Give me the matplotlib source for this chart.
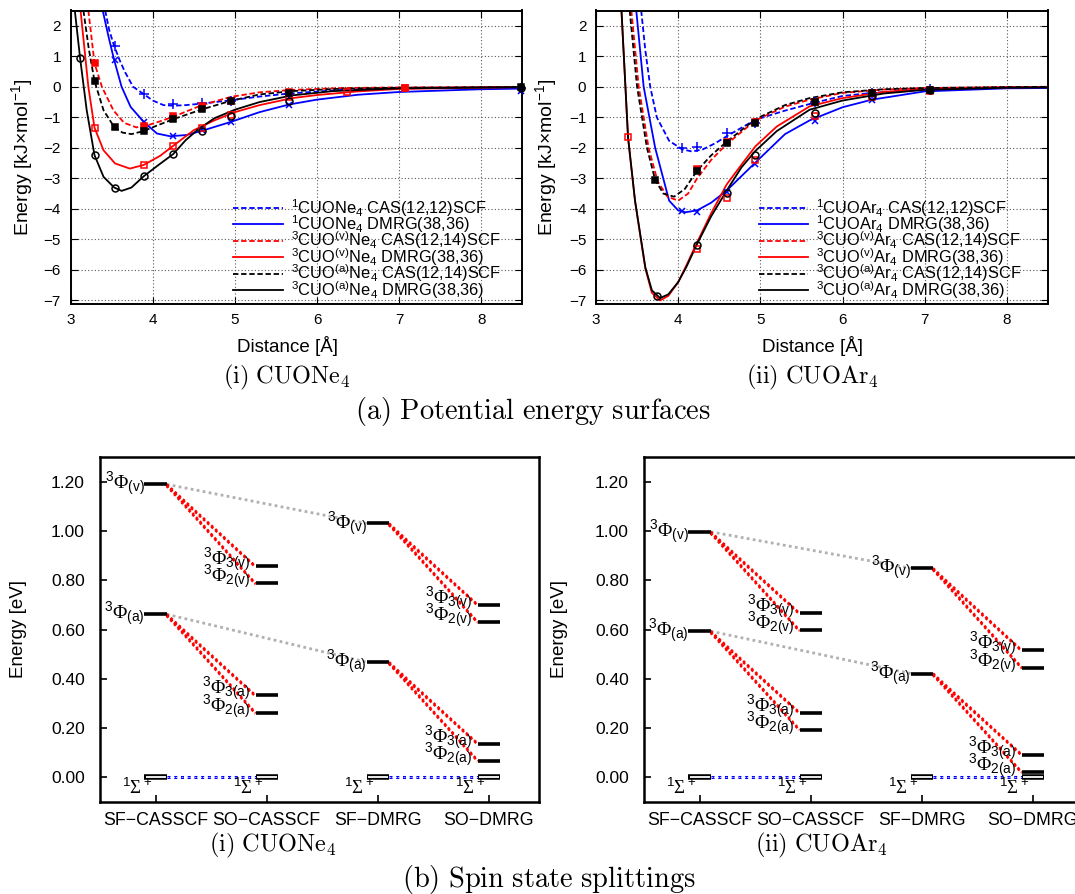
import numpy as np
import matplotlib.pyplot as plt

plt.rcParams['font.family'] = ['Liberation Sans', 'DejaVu Sans']
plt.rcParams['mathtext.fontset'] = 'custom'
plt.rcParams['mathtext.rm'] = 'Liberation Sans'
plt.rcParams['mathtext.it'] = 'Liberation Sans:italic'
plt.rcParams['mathtext.bf'] = 'Liberation Sans:bold'
plt.rcParams['mathtext.sf'] = 'Liberation Serif'   # used for the serif Phi / Sigma glyphs

# ---------------- potential energy surfaces, CUONe4 ----------------
# curves and computed points
ne_s_cas_cx = [3.42, 3.47, 3.53, 3.6, 3.66, 3.76, 3.89, 4.0, 4.13, 4.25, 4.4, 4.6, 4.95, 5.3, 5.66, 6.3, 7.0, 8.5]
ne_s_cas_cy = [2.5, 1.85, 1.33, 0.85, 0.49, 0.0, -0.24, -0.45, -0.6, -0.62, -0.6, -0.55, -0.44, -0.32, -0.22, -0.1, -0.05, -0.02]
ne_s_cas_px = [3.54, 3.89, 4.24, 4.6, 4.95, 5.66, 8.49]
ne_s_cas_py = [1.34, -0.23, -0.56, -0.53, -0.45, -0.25, -0.05]

ne_s_dmrg_cx = [3.39, 3.46, 3.53, 3.62, 3.73, 3.89, 4.05, 4.21, 4.41, 4.6, 4.95, 5.3, 5.66, 6.0, 6.5, 7.0, 8.0, 8.5]
ne_s_dmrg_cy = [2.5, 1.65, 0.87, 0.0, -0.66, -1.15, -1.53, -1.62, -1.58, -1.44, -1.15, -0.83, -0.58, -0.42, -0.26, -0.17, -0.08, -0.06]
ne_s_dmrg_px = [3.54, 3.89, 4.24, 4.6, 4.95, 5.66, 8.49]
ne_s_dmrg_py = [0.88, -1.14, -1.61, -1.42, -1.15, -0.58, -0.13]

ne_v_cas_cx = [3.215, 3.29, 3.38, 3.52, 3.65, 3.8, 3.95, 4.1, 4.25, 4.6, 4.95, 5.3, 5.7, 6.3, 7.0, 8.5]
ne_v_cas_cy = [2.5, 0.77, 0.0, -0.77, -1.18, -1.33, -1.25, -1.12, -0.98, -0.6, -0.33, -0.18, -0.1, -0.04, -0.02, 0.0]
ne_v_cas_px = [3.29, 3.89, 4.24, 4.6, 4.95, 5.66, 7.07]
ne_v_cas_py = [0.77, -1.29, -0.97, -0.62, -0.45, -0.18, -0.03]

ne_v_dmrg_cx = [3.12, 3.215, 3.29, 3.4, 3.54, 3.72, 3.89, 4.09, 4.25, 4.5, 4.75, 5.0, 5.3, 5.7, 6.0, 6.5, 7.0, 8.5]
ne_v_dmrg_cy = [2.5, 0.0, -1.34, -2.08, -2.51, -2.68, -2.56, -2.26, -1.93, -1.42, -1.1, -0.83, -0.6, -0.37, -0.27, -0.15, -0.07, -0.01]
ne_v_dmrg_px = [3.29, 3.89, 4.24, 4.6, 4.95, 5.66, 6.36, 7.07]
ne_v_dmrg_py = [-1.34, -2.55, -1.93, -1.34, -0.92, -0.35, -0.17, -0.05]

ne_a_cas_cx = [3.155, 3.22, 3.29, 3.4, 3.53, 3.63, 3.74, 3.89, 4.05, 4.25, 4.61, 4.95, 5.3, 5.7, 6.3, 7.0, 8.5]
ne_a_cas_cy = [2.5, 1.25, 0.19, -0.77, -1.32, -1.5, -1.55, -1.45, -1.27, -1.06, -0.73, -0.46, -0.25, -0.14, -0.06, -0.03, -0.01]
ne_a_cas_px = [3.29, 3.54, 3.89, 4.24, 4.6, 4.95, 5.66, 8.49]
ne_a_cas_py = [0.19, -1.32, -1.45, -1.05, -0.73, -0.46, -0.2, -0.02]

ne_a_dmrg_cx = [3.05, 3.114, 3.195, 3.29, 3.4, 3.53, 3.62, 3.74, 3.89, 4.05, 4.25, 4.4, 4.55, 4.75, 5.0, 5.3, 5.7, 6.2, 7.0, 8.5]
ne_a_dmrg_cy = [2.5, 0.95, -0.77, -2.24, -2.95, -3.3, -3.41, -3.3, -2.93, -2.6, -2.2, -1.75, -1.4, -1.03, -0.75, -0.5, -0.28, -0.14, -0.05, -0.01]
ne_a_dmrg_px = [3.11, 3.29, 3.54, 3.89, 4.24, 4.6, 4.95, 5.66, 8.49]
ne_a_dmrg_py = [0.95, -2.24, -3.3, -2.93, -2.2, -1.45, -0.95, -0.46, -0.05]

# ---------------- potential energy surfaces, CUOAr4 ----------------
ar_s_cas_cx = [3.55, 3.6, 3.66, 3.74, 3.89, 4.05, 4.17, 4.3, 4.45, 4.59, 4.94, 5.3, 5.66, 6.0, 6.36, 7.0, 8.0, 8.5]
ar_s_cas_cy = [2.5, 1.2, 0.0, -1.0, -1.77, -2.05, -2.12, -2.05, -1.85, -1.62, -1.08, -0.78, -0.52, -0.3, -0.2, -0.08, -0.02, -0.01]
ar_s_cas_px = [4.05, 4.23, 4.59, 4.94, 5.66, 6.36, 7.07]
ar_s_cas_py = [-2.02, -1.96, -1.53, -1.18, -0.5, -0.2, -0.08]

ar_s_dmrg_cx = [3.49, 3.58, 3.72, 3.89, 4.0, 4.09, 4.23, 4.4, 4.59, 4.94, 5.3, 5.6, 6.0, 6.36, 7.0, 8.0, 8.5]
ar_s_dmrg_cy = [2.5, 0.0, -2.0, -3.73, -4.05, -4.11, -4.05, -3.8, -3.4, -2.48, -1.55, -1.1, -0.67, -0.42, -0.15, -0.05, -0.04]
ar_s_dmrg_px = [4.05, 4.23, 4.59, 4.94, 5.66, 6.36, 7.07]
ar_s_dmrg_py = [-4.06, -4.09, -3.46, -2.53, -1.13, -0.43, -0.12]

ar_v_cas_cx = [3.43, 3.52, 3.64, 3.75, 3.87, 4.0, 4.12, 4.23, 4.4, 4.59, 4.94, 5.3, 5.6, 6.0, 6.5, 7.0, 8.0, 8.5]
ar_v_cas_cy = [2.5, 0.0, -2.0, -3.1, -3.6, -3.73, -3.5, -3.0, -2.4, -1.88, -1.1, -0.65, -0.42, -0.2, -0.09, -0.04, -0.01, 0.0]
ar_v_cas_px = [4.23, 4.59, 4.94, 5.66, 6.36, 7.07]
ar_v_cas_py = [-2.7, -1.8, -1.15, -0.5, -0.2, -0.1]

ar_v_dmrg_cx = [3.31, 3.39, 3.475, 3.6, 3.68, 3.78, 3.88, 4.0, 4.1, 4.23, 4.4, 4.59, 4.77, 4.94, 5.2, 5.6, 6.0, 6.5, 7.0, 8.0, 8.5]
ar_v_dmrg_cy = [2.5, -1.66, -3.75, -5.95, -6.75, -7.0, -6.85, -6.4, -5.85, -5.1, -4.15, -3.2, -2.55, -1.95, -1.3, -0.64, -0.37, -0.17, -0.07, -0.02, -0.01]
ar_v_dmrg_px = [3.39, 4.23, 4.59, 4.94, 5.66, 6.36, 7.07]
ar_v_dmrg_py = [-1.66, -5.3, -3.64, -2.39, -0.97, -0.35, -0.15]

ar_a_cas_cx = [3.41, 3.5, 3.62, 3.72, 3.82, 3.95, 4.08, 4.23, 4.4, 4.59, 4.94, 5.3, 5.6, 6.0, 6.5, 7.0, 8.0, 8.5]
ar_a_cas_cy = [2.5, 0.0, -2.0, -3.05, -3.5, -3.6, -3.35, -2.75, -2.25, -1.8, -1.06, -0.6, -0.37, -0.18, -0.08, -0.04, -0.01, 0.0]
ar_a_cas_px = [3.72, 4.23, 4.59, 4.94, 5.66, 6.36, 7.07]
ar_a_cas_py = [-3.05, -2.75, -1.83, -1.18, -0.49, -0.2, -0.1]

ar_a_dmrg_cx = [3.31, 3.39, 3.475, 3.6, 3.68, 3.78, 3.88, 4.0, 4.1, 4.23, 4.4, 4.59, 4.77, 4.94, 5.2, 5.6, 6.0, 6.5, 7.0, 8.0, 8.5]
ar_a_dmrg_cy = [2.5, -1.66, -3.73, -5.91, -6.67, -6.92, -6.8, -6.4, -5.9, -5.15, -4.25, -3.4, -2.64, -2.1, -1.45, -0.75, -0.45, -0.22, -0.1, -0.03, -0.02]
ar_a_dmrg_px = [3.74, 4.23, 4.59, 4.94, 5.66, 6.36, 7.07]
ar_a_dmrg_py = [-6.86, -5.17, -3.49, -2.24, -0.86, -0.3, -0.1]

ne_labels = [r'$^1$CUONe$_4$ CAS(12,12)SCF', r'$^1$CUONe$_4$ DMRG(38,36)',
             r'$^3$CUO$^{(\mathrm{v})}$Ne$_4$ CAS(12,14)SCF', r'$^3$CUO$^{(\mathrm{v})}$Ne$_4$ DMRG(38,36)',
             r'$^3$CUO$^{(\mathrm{a})}$Ne$_4$ CAS(12,14)SCF', r'$^3$CUO$^{(\mathrm{a})}$Ne$_4$ DMRG(38,36)']
ar_labels = [r'$^1$CUOAr$_4$ CAS(12,12)SCF', r'$^1$CUOAr$_4$ DMRG(38,36)',
             r'$^3$CUO$^{(\mathrm{v})}$Ar$_4$ CAS(12,14)SCF', r'$^3$CUO$^{(\mathrm{v})}$Ar$_4$ DMRG(38,36)',
             r'$^3$CUO$^{(\mathrm{a})}$Ar$_4$ CAS(12,14)SCF', r'$^3$CUO$^{(\mathrm{a})}$Ar$_4$ DMRG(38,36)']

# ---------------- spin state splittings (eV) ----------------
# [Phi(a), Phi(v)] for the SF columns, [[Phi3(a), Phi2(a)], [Phi3(v), Phi2(v)]] for the SO columns
ne_sf_cas = [0.662, 1.190]
ne_so_cas = [[0.332, 0.261], [0.857, 0.787]]
ne_sf_dmrg = [0.467, 1.031]
ne_so_dmrg = [[0.136, 0.067], [0.700, 0.630]]

ar_sf_cas = [0.593, 0.997]
ar_so_cas = [[0.262, 0.193], [0.666, 0.596]]
ar_sf_dmrg = [0.421, 0.849]
ar_so_dmrg = [[0.091, 0.020], [0.515, 0.445]]

methods = ['SF\u2212CASSCF', 'SO\u2212CASSCF', 'SF\u2212DMRG', 'SO\u2212DMRG']

W, H = 1075, 894
fig = plt.figure(figsize=(W / 100, H / 100), dpi=100)


def box(l, t, r, b):
    return [l / W, 1 - b / H, (r - l) / W, (b - t) / H]


dash = (0, (3, 1.5))
styles = [('#0000ff', dash, '+', 7, 'full'),
          ('#0000ff', '-', 'x', 5, 'full'),
          ('#ff0000', dash, 's', 4, 'full'),
          ('#ff0000', '-', 's', 5, 'none'),
          ('#000000', dash, 's', 4, 'full'),
          ('#000000', '-', 'o', 5, 'none')]


def draw_pes(ax, curves, points, labels):
    for (cx, cy), (px, py), lab, st in zip(curves, points, labels, styles):
        col, ls, mk, ms, fill = st
        ax.plot(cx, cy, color=col, ls=ls, lw=1.3, label=lab)
        ax.plot(px, py, ls='none', marker=mk, ms=ms, color=col, mew=1.1,
                mfc=(col if fill == 'full' else 'none'), clip_on=False, zorder=4)
    ax.set_xlim(3, 8.5)
    ax.set_ylim(-7.1, 2.5)
    ax.set_xticks(range(3, 9))
    ax.set_yticks(range(-7, 3))
    ax.grid(True, color='0.35', ls=(0, (1, 2)), lw=0.8)
    ax.tick_params(direction='in', top=True, right=True, length=5, labelsize=11, pad=7)
    for s in ax.spines.values():
        s.set_linewidth(1.4)
    ax.text(0.48, -0.145, 'Distance [Å]', transform=ax.transAxes, ha='center', va='center', fontsize=13.5)
    ax.set_ylabel(r'Energy [kJ$\times$mol$^{-1}$]', fontsize=14)
    ax.yaxis.set_label_coords(-0.078, 0.5)
    ax.legend(loc='lower left', bbox_to_anchor=(0.335, -0.03), frameon=False, fontsize=11.8,
              handlelength=3.0, handletextpad=0.5, labelspacing=-0.32, borderpad=0.2)


ax1 = fig.add_axes(box(70.7, 10.5, 522.3, 303.5))
draw_pes(ax1,
         [(ne_s_cas_cx, ne_s_cas_cy), (ne_s_dmrg_cx, ne_s_dmrg_cy), (ne_v_cas_cx, ne_v_cas_cy),
          (ne_v_dmrg_cx, ne_v_dmrg_cy), (ne_a_cas_cx, ne_a_cas_cy), (ne_a_dmrg_cx, ne_a_dmrg_cy)],
         [(ne_s_cas_px, ne_s_cas_py), (ne_s_dmrg_px, ne_s_dmrg_py), (ne_v_cas_px, ne_v_cas_py),
          (ne_v_dmrg_px, ne_v_dmrg_py), (ne_a_cas_px, ne_a_cas_py), (ne_a_dmrg_px, ne_a_dmrg_py)],
         ne_labels)

ax2 = fig.add_axes(box(596, 10.5, 1048, 303.5))
draw_pes(ax2,
         [(ar_s_cas_cx, ar_s_cas_cy), (ar_s_dmrg_cx, ar_s_dmrg_cy), (ar_v_cas_cx, ar_v_cas_cy),
          (ar_v_dmrg_cx, ar_v_dmrg_cy), (ar_a_cas_cx, ar_a_cas_cy), (ar_a_dmrg_cx, ar_a_dmrg_cy)],
         [(ar_s_cas_px, ar_s_cas_py), (ar_s_dmrg_px, ar_s_dmrg_py), (ar_v_cas_px, ar_v_cas_py),
          (ar_v_dmrg_px, ar_v_dmrg_py), (ar_a_cas_px, ar_a_cas_py), (ar_a_dmrg_px, ar_a_dmrg_py)],
         ar_labels)
ax2.yaxis.set_label_coords(-0.082, 0.5)

dots = (0, (1, 1.2))


def draw_levels(ax, sf_cas, so_cas, sf_dmrg, so_dmrg):
    pos = [1, 2, 3, 4]
    hw = 0.1
    tags = ['a', 'v']
    # singlet reference levels
    for p in pos:
        ax.plot([p - hw, p + hw], [0, 0], color='k', lw=4.0, solid_capstyle='butt', zorder=3)
        ax.plot([p - hw + 0.01, p + hw - 0.01], [0, 0], color='w', lw=1.3, solid_capstyle='butt', zorder=4)
        ax.text(p - 0.03, -0.004, r'$^1\mathsf{\Sigma}^+$', ha='right', va='top', fontsize=13.5)
    for a, b in [(0, 1), (2, 3)]:
        ax.plot([pos[a] + hw, pos[b] - hw], [0, 0], color='#0000ff', ls=dots, lw=2.2, zorder=2)
        ax.plot([pos[a] + hw, pos[b] - hw], [0, 0], color='w', ls=(0, (2, 1)), lw=0.5, zorder=2)
    for k in range(2):
        # SF -> SF grey link
        ax.plot([pos[0] + hw, pos[2] - hw], [sf_cas[k], sf_dmrg[k]], color='#b0b0b0', ls=dots, lw=2.0, zorder=1)
        for sf, so, p in [(sf_cas[k], so_cas[k], 0), (sf_dmrg[k], so_dmrg[k], 2)]:
            ax.plot([pos[p] - hw, pos[p] + hw], [sf, sf], color='k', lw=2.6, solid_capstyle='butt', zorder=3)
            ax.text(pos[p] - hw, sf, r'$^3\mathsf{\Phi}_{\mathrm{(%s)}}$' % tags[k],
                    ha='right', va='center', fontsize=14)
            for j, e in enumerate(so):
                for off in (0.0, -0.012):
                    ax.plot([pos[p] + hw, pos[p + 1] - hw], [sf + off * 0.5, e + off * 0.3],
                            color='#ff0000', ls=dots, lw=1.8, zorder=2)
                ax.plot([pos[p + 1] - hw, pos[p + 1] + hw], [e, e], color='k', lw=2.6,
                        solid_capstyle='butt', zorder=3)
                ax.text(pos[p + 1] - hw - 0.05, e + 0.025,
                        r'$^3\mathsf{\Phi}_{\mathrm{%d(%s)}}$' % (3 - j, tags[k]),
                        ha='right', va='center', fontsize=14)
    ax.set_xlim(0.5, 4.45)
    ax.set_ylim(-0.1, 1.3)
    ax.set_xticks(pos)
    ax.set_xticklabels(methods)
    ax.set_yticks(np.arange(0, 1.21, 0.2))
    ax.set_yticklabels(['%.2f' % v for v in np.arange(0, 1.21, 0.2)])
    ax.tick_params(axis='y', direction='in', length=5, labelsize=12.5, pad=11, width=1.2)
    ax.tick_params(axis='x', direction='in', length=5, labelsize=12.8, pad=7.5, width=1.2)
    for s in ax.spines.values():
        s.set_linewidth(1.8)
    ax.set_ylabel('Energy [eV]', fontsize=13.5)
    ax.yaxis.set_label_coords(-0.166, 0.5)


ax3 = fig.add_axes(box(100, 457.3, 539, 801.7))
draw_levels(ax3, ne_sf_cas, ne_so_cas, ne_sf_dmrg, ne_so_dmrg)
ax4 = fig.add_axes(box(644, 457.3, 1083, 801.7))
draw_levels(ax4, ar_sf_cas, ar_so_cas, ar_sf_dmrg, ar_so_dmrg)
ax4.yaxis.set_label_coords(-0.173, 0.5)

# sub-captions in Computer Modern
cap = dict(ha='center', va='center', math_fontfamily='cm')
fig.text(287 / W, 1 - 377 / H, r'$\mathrm{(i)\ CUONe_4}$', fontsize=17.5, **cap)
fig.text(812 / W, 1 - 377 / H, r'$\mathrm{(ii)\ CUOAr_4}$', fontsize=17.5, **cap)
fig.text(533 / W, 1 - 411 / H, r'$\mathrm{(a)\ Potential\ energy\ surfaces}$', fontsize=20.5, **cap)
fig.text(273 / W, 1 - 845 / H, r'$\mathrm{(i)\ CUONe_4}$', fontsize=17.5, **cap)
fig.text(821 / W, 1 - 845 / H, r'$\mathrm{(ii)\ CUOAr_4}$', fontsize=17.5, **cap)
fig.text(549 / W, 1 - 880 / H, r'$\mathrm{(b)\ Spin\ state\ splittings}$', fontsize=20.5, **cap)

fig.savefig('out.png', dpi=100)
